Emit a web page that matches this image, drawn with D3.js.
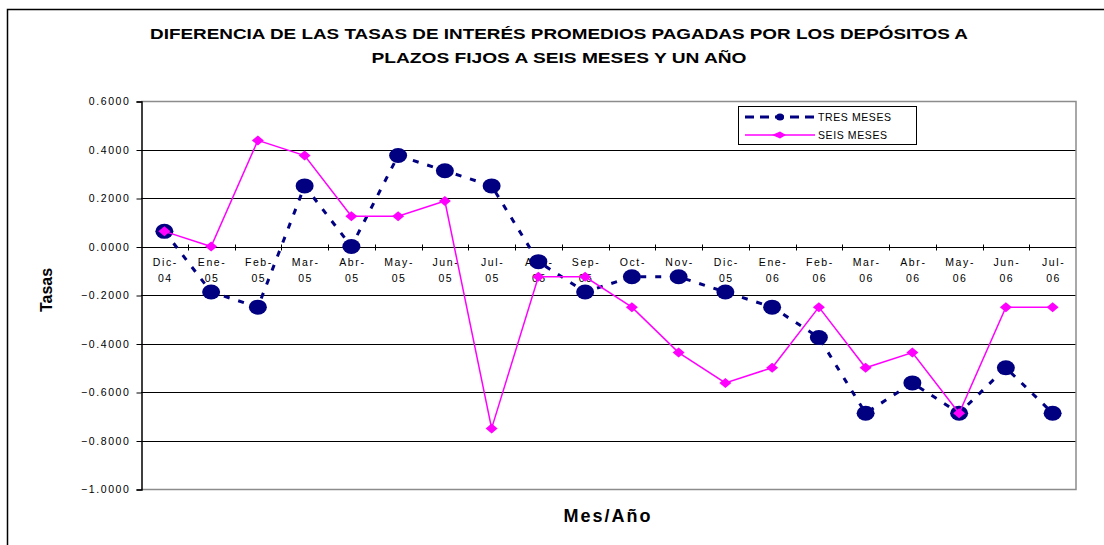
<!DOCTYPE html>
<html>
<head>
<meta charset="utf-8">
<script src="https://cdn.jsdelivr.net/npm/d3@7"></script>
<style>
  body { margin: 0; background: #fff; }
  svg { display: block; font-family: "Liberation Sans", Arial, sans-serif; }
</style>
</head>
<body>
<div id="chart"></div>
<script>
const categories = ['Dic-04', 'Ene-05', 'Feb-05', 'Mar-05', 'Abr-05', 'May-05', 'Jun-05', 'Jul-05', 'Ago-05', 'Sep-05',
  'Oct-05', 'Nov-05', 'Dic-05', 'Ene-06', 'Feb-06', 'Mar-06', 'Abr-06', 'May-06', 'Jun-06', 'Jul-06'];
const tresMeses = [0.0625, -0.1875, -0.25, 0.25, 0, 0.375, 0.3125, 0.25, -0.0625, -0.1875,
  -0.125, -0.125, -0.1875, -0.25, -0.375, -0.6875, -0.5625, -0.6875, -0.5, -0.6875];
const seisMeses = [0.0625, 0, 0.4375, 0.375, 0.125, 0.125, 0.1875, -0.75, -0.125, -0.125,
  -0.25, -0.4375, -0.5625, -0.5, -0.25, -0.5, -0.4375, -0.6875, -0.25, -0.25];
const yTicks = [0.6, 0.4, 0.2, 0, -0.2, -0.4, -0.6, -0.8, -1.0];
const seriesNames = ['TRES MESES', 'SEIS MESES'];
const titleLines = ['DIFERENCIA DE LAS TASAS DE INTERÉS PROMEDIOS PAGADAS POR LOS DEPÓSITOS A',
  'PLAZOS FIJOS A SEIS MESES Y UN AÑO'];

const W = 1104, H = 545;
const plot = {left: 141, right: 1076, top: 101, bottom: 489};
const navy = '#000080', magenta = '#ff00ff';

const svg = d3.select('#chart').append('svg')
  .attr('width', W)
  .attr('height', H);

// outer chart frame (runs off the right and bottom edges)
svg.append('rect')
  .attr('x', 7.5).attr('y', 9.5)
  .attr('width', W + 20).attr('height', H + 20)
  .attr('fill', 'none').attr('stroke', '#000').attr('stroke-width', 1.5);

// title
svg.append('g').selectAll('text')
  .data(titleLines)
  .enter().append('text')
    .attr('x', 559)
    .attr('y', (d, i) => 39 + i * 24)
    .attr('text-anchor', 'middle')
    .attr('font-size', '15px')
    .attr('font-weight', 'bold')
    .attr('textLength', (d, i) => i === 0 ? 818 : 375)
    .attr('lengthAdjust', 'spacingAndGlyphs')
    .text(d => d);

const x = d3.scaleBand().domain(categories).range([plot.left, plot.right]);
const y = d3.scaleLinear().domain([-1, 0.6]).range([plot.bottom, plot.top]);
const cx = d => x(d) + x.bandwidth() / 2;

// gridlines
svg.append('g')
  .selectAll('line')
  .data(yTicks.filter(t => t < 0.6 && t > -1))
  .enter().append('line')
    .attr('x1', plot.left).attr('x2', plot.right)
    .attr('y1', d => Math.round(y(d)) + 0.5).attr('y2', d => Math.round(y(d)) + 0.5)
    .attr('stroke', '#000').attr('stroke-width', 1);

// plot frame (grey top, right, bottom)
svg.append('path')
  .attr('d', `M${plot.left},${plot.top + 0.5}H${plot.right}V${plot.bottom + 0.5}H${plot.left}`)
  .attr('fill', 'none').attr('stroke', '#8c8c8c').attr('stroke-width', 1.5);

// y axis
svg.append('g')
  .attr('transform', `translate(${plot.left + 0.5}, 0.5)`)
  .call(d3.axisLeft(y).tickValues(yTicks).tickFormat(d3.format('.4f')).tickSize(5).tickPadding(6))
  .call(g => {
    g.select('.domain').attr('stroke', '#000').attr('stroke-width', 1.5);
    g.selectAll('.tick line').attr('stroke', '#000');
    g.selectAll('.tick text')
      .attr('font-size', '10.5px')
      .attr('letter-spacing', '1.6px')
      .attr('fill', '#000')
      .attr('font-family', '"Liberation Sans", Arial, sans-serif');
  });

// x axis at zero
const xAxisG = svg.append('g');
xAxisG.append('line')
  .attr('x1', plot.left).attr('x2', plot.right)
  .attr('y1', Math.round(y(0)) + 0.5).attr('y2', Math.round(y(0)) + 0.5)
  .attr('stroke', '#000').attr('stroke-width', 1);
xAxisG.selectAll('.xtick')
  .data(categories.slice(1))
  .enter().append('line')
    .attr('class', 'xtick')
    .attr('x1', d => Math.round(x(d)) + 0.5).attr('x2', d => Math.round(x(d)) + 0.5)
    .attr('y1', y(0) - 2).attr('y2', y(0) + 4)
    .attr('stroke', '#000');
const labels = xAxisG.selectAll('.xlabel')
  .data(categories)
  .enter().append('text')
    .attr('class', 'xlabel')
    .attr('text-anchor', 'middle')
    .attr('font-size', '10.5px')
    .attr('letter-spacing', '1.6px')
    .attr('fill', '#000');
labels.append('tspan')
  .attr('x', d => cx(d) + 1).attr('y', 266)
  .text(d => d.split('-')[0] + '-');
labels.append('tspan')
  .attr('x', d => cx(d) + 1).attr('y', 282)
  .text(d => d.split('-')[1]);

// axis titles
svg.append('text')
  .attr('transform', 'translate(52, 290) rotate(-90)')
  .attr('text-anchor', 'middle')
  .attr('font-size', '16px')
  .attr('font-weight', 'bold')
  .text('Tasas');
svg.append('text')
  .attr('x', 608).attr('y', 522)
  .attr('text-anchor', 'middle')
  .attr('font-size', '18px')
  .attr('font-weight', 'bold')
  .attr('letter-spacing', '2px')
  .text('Mes/Año');

// series
const line = d3.line().x((d, i) => cx(categories[i])).y(d => y(d));

svg.append('path')
  .datum(tresMeses)
  .attr('d', line)
  .attr('fill', 'none')
  .attr('stroke', navy)
  .attr('stroke-width', 3)
  .attr('stroke-dasharray', '6,9');
svg.append('g').selectAll('ellipse')
  .data(tresMeses)
  .enter().append('ellipse')
    .attr('cx', (d, i) => cx(categories[i]))
    .attr('cy', d => y(d))
    .attr('rx', 9).attr('ry', 7.5)
    .attr('fill', navy);

const diamond = (px, py) => `M${px - 6},${py}L${px},${py - 5}L${px + 6},${py}L${px},${py + 5}Z`;

svg.append('path')
  .datum(seisMeses)
  .attr('d', line)
  .attr('fill', 'none')
  .attr('stroke', magenta)
  .attr('stroke-width', 1.5);
svg.append('g').selectAll('path')
  .data(seisMeses)
  .enter().append('path')
    .attr('d', (d, i) => diamond(cx(categories[i]), y(d)))
    .attr('fill', magenta);

// legend
const legend = svg.append('g').attr('transform', 'translate(738, 106)');
legend.append('rect')
  .attr('x', 0.5).attr('y', 0.5)
  .attr('width', 178).attr('height', 38)
  .attr('fill', '#fff').attr('stroke', '#000').attr('stroke-width', 1);
const rows = legend.selectAll('.row')
  .data(seriesNames)
  .enter().append('g')
    .attr('class', 'row')
    .attr('transform', (d, i) => `translate(0, ${11 + i * 18})`);
rows.append('line')
  .attr('x1', 7).attr('x2', 77)
  .attr('stroke', (d, i) => i === 0 ? navy : magenta)
  .attr('stroke-width', (d, i) => i === 0 ? 3 : 1.5)
  .attr('stroke-dasharray', (d, i) => i === 0 ? '9,6' : null);
rows.filter((d, i) => i === 0).append('ellipse')
  .attr('cx', 42).attr('rx', 4).attr('ry', 3.5).attr('fill', navy);
rows.filter((d, i) => i === 1).append('path')
  .attr('d', diamond(42, 0).replace(/6/g, '4').replace(/5/g, '3.5'))
  .attr('fill', magenta);
rows.append('text')
  .attr('x', 80).attr('y', 4)
  .attr('font-size', '10.5px')
  .attr('letter-spacing', '0.6px')
  .text(d => d);
</script>
</body>
</html>
